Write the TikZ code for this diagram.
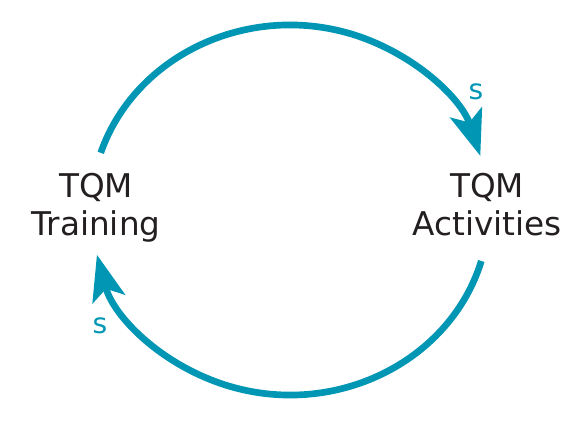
\documentclass[tikz,border=0pt]{standalone}
\usepackage{fontspec}
\setmainfont{DejaVu Sans}
\usetikzlibrary{arrows.meta,calc}
\definecolor{loopblue}{RGB}{0,150,180}
\definecolor{txtgray}{RGB}{35,31,32}

\begin{document}
\begin{tikzpicture}
        \tikzstyle{factor}=[text=txtgray,align=center,anchor=north,inner sep=0pt,font=\fontsize{9.3}{10.6}\selectfont]
        \tikzstyle{loopline}=[draw=loopblue,line width=1.9pt,-{Stealth[length=13pt,width=9.5pt,inset=3pt]}]
        \tikzstyle{signlabel}=[text=loopblue,font=\fontsize{8}{8}\selectfont]
        \useasboundingbox (0,0) rectangle (5.73,4.39);
       \begin{scope}
         \node [factor] (v1) at (0.96,2.66) {TQM\\Training};
         \node [factor] (v2) at (4.87,2.66) {TQM\\Activities};
         \coordinate (c) at (2.90,2.29);
         \coordinate (a1) at ($(c)+(162:1.99 and 1.85)$);
         \coordinate (a2) at ($(c)+(-16:1.99 and 1.85)$);
         \path[loopline] (a1) arc [start angle=162, end angle=17, x radius=1.99, y radius=1.85];
         \path[loopline] (a2) arc [start angle=-16, end angle=-166, x radius=1.99, y radius=1.85];
         \node [signlabel] (p1) at (4.76,3.47) {s};
         \node [signlabel] (p2) at (1.00,1.13) {s};
        \end{scope}
      \end{tikzpicture}
\end{document}
